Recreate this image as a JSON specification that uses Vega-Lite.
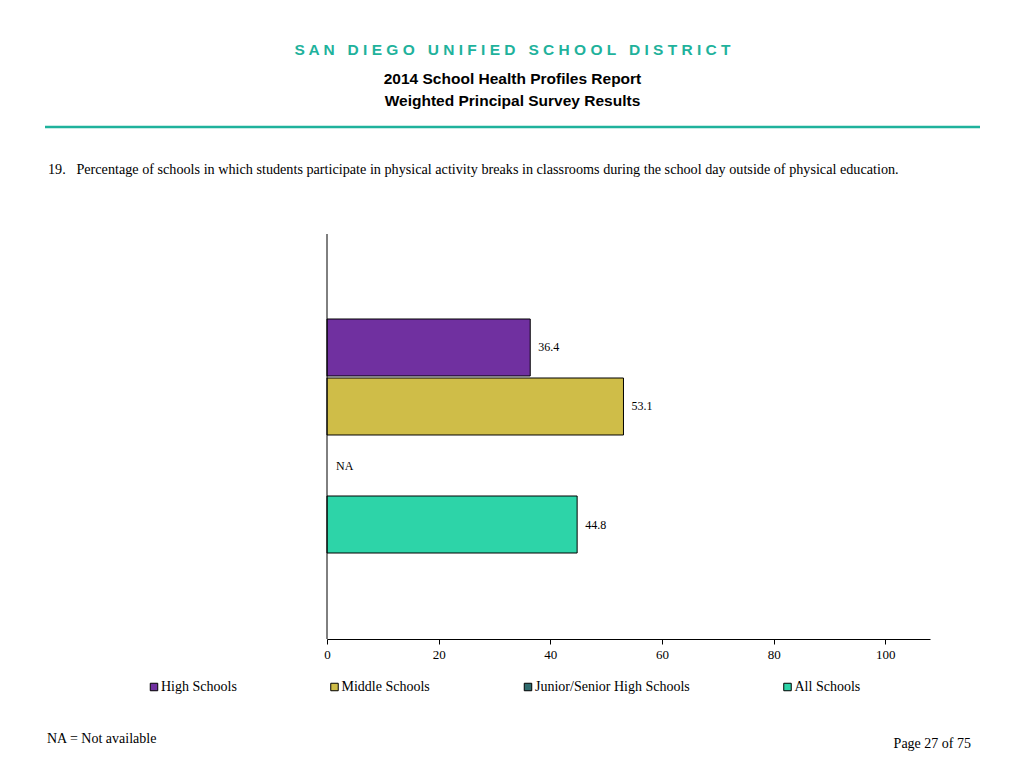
{
  "$schema": "https://vega.github.io/schema/vega-lite/v6.json",
  "padding": {"left": 43, "top": 43, "right": 0, "bottom": 0},
  "background": "white",
  "title": {
    "text": "S A N \u00a0 D I E G O \u00a0 U N I F I E D \u00a0 S C H O O L \u00a0 D I S T R I C T",
    "subtitle": ["2014 School Health Profiles Report", "Weighted Principal Survey Results"],
    "anchor": "middle",
    "font": "Liberation Sans",
    "fontSize": 15.5,
    "fontWeight": "bold",
    "color": "#1FB29C",
    "subtitleFont": "Liberation Sans",
    "subtitleFontSize": 15.5,
    "subtitleFontWeight": "bold",
    "subtitleColor": "black",
    "subtitlePadding": 13,
    "subtitleLineHeight": 22,
    "offset": 8
  },
  "spacing": 26,
  "vconcat": [
    {
      "width": 935,
      "height": 0,
      "data": {"values": [{}]},
      "mark": {"type": "rule", "color": "#1FB29C", "strokeWidth": 2.5},
      "encoding": {
        "x": {"datum": 0, "type": "quantitative", "scale": {"domain": [0, 1]}, "axis": null},
        "x2": {"datum": 1}
      }
    },
    {
      "width": 885,
      "height": 405,
      "title": {
        "text": "19. \u00a0 Percentage of schools in which students participate in physical activity breaks in classrooms during the school day outside of physical education.",
        "anchor": "start",
        "frame": "bounds",
        "font": "Liberation Serif",
        "fontSize": 14.2,
        "fontWeight": "normal",
        "color": "black",
        "dx": 3,
        "offset": 56
      },
      "data": {
        "values": [
          {"group": "High Schools", "value": 36.4},
          {"group": "Middle Schools", "value": 53.1},
          {"group": "Junior/Senior High Schools", "value": null},
          {"group": "All Schools", "value": 44.8}
        ]
      },
      "layer": [
        {
          "transform": [{"filter": "datum.value != null"}],
          "mark": {"type": "bar", "stroke": "black", "strokeWidth": 1},
          "encoding": {
            "x": {
              "field": "value",
              "type": "quantitative",
              "scale": {"domain": [0, 108], "nice": false, "zero": true, "range": [282, 885]},
              "axis": {
                "values": [0, 20, 40, 60, 80, 100],
                "grid": false,
                "title": null,
                "domainColor": "black",
                "tickColor": "black",
                "tickSize": 5,
                "labelFont": "Liberation Serif",
                "labelFontSize": 13,
                "labelColor": "black",
                "labelPadding": 4,
                "labelFlush": false
              }
            },
            "y": {
              "field": "group",
              "type": "nominal",
              "scale": {
                "domain": ["High Schools", "Middle Schools", "Junior/Senior High Schools", "All Schools"],
                "range": [85, 319],
                "paddingInner": 0.034,
                "paddingOuter": 0
              },
              "axis": null
            },
            "color": {
              "field": "group",
              "type": "nominal",
              "scale": {
                "domain": ["High Schools", "Middle Schools", "Junior/Senior High Schools", "All Schools"],
                "range": ["#7030A0", "#CFBD48", "#2E6B6E", "#2DD4A8"]
              },
              "legend": {
                "orient": "none",
                "legendX": 102,
                "legendY": 563,
                "direction": "horizontal",
                "title": null,
                "symbolType": "square",
                "symbolSize": 56,
                "symbolStrokeColor": "black",
                "symbolStrokeWidth": 1,
                "symbolOpacity": 1,
                "labelFont": "Liberation Serif",
                "labelFontSize": 14,
                "labelColor": "black",
                "labelOffset": 0,
                "columnPadding": 90.5,
                "padding": 0
              }
            }
          }
        },
        {
          "data": {"values": [{}]},
          "mark": {"type": "rule", "color": "black", "strokeWidth": 1},
          "encoding": {
            "x": {"datum": 0, "type": "quantitative"}
          }
        },
        {
          "transform": [{"filter": "datum.value != null"}],
          "mark": {"type": "text", "align": "left", "baseline": "middle", "dx": 8, "font": "Liberation Serif", "fontSize": 12, "color": "black"},
          "encoding": {
            "x": {"field": "value", "type": "quantitative"},
            "y": {"field": "group", "type": "nominal"},
            "text": {"field": "value", "type": "quantitative", "format": ".1f"}
          }
        },
        {
          "transform": [{"filter": "datum.value == null"}],
          "mark": {"type": "text", "align": "left", "baseline": "middle", "dx": 9, "font": "Liberation Serif", "fontSize": 12, "color": "black"},
          "encoding": {
            "x": {"datum": 0, "type": "quantitative"},
            "y": {"field": "group", "type": "nominal"},
            "text": {"value": "NA"}
          }
        }
      ]
    },
    {
      "width": 926,
      "height": 0,
      "data": {"values": [{"note": "NA = Not available", "page": "Page 27 of 75"}]},
      "layer": [
        {
          "mark": {"type": "text", "align": "left", "baseline": "middle", "dx": 2, "dy": 42, "font": "Liberation Serif", "fontSize": 14, "color": "black"},
          "encoding": {
            "x": {"datum": 0, "type": "quantitative", "scale": {"domain": [0, 1]}, "axis": null},
            "text": {"field": "note", "type": "nominal"}
          }
        },
        {
          "mark": {"type": "text", "align": "right", "baseline": "middle", "dy": 47, "font": "Liberation Serif", "fontSize": 14, "color": "black"},
          "encoding": {
            "x": {"datum": 1, "type": "quantitative"},
            "text": {"field": "page", "type": "nominal"}
          }
        }
      ]
    }
  ],
  "config": {
    "view": {"stroke": null}
  }
}
